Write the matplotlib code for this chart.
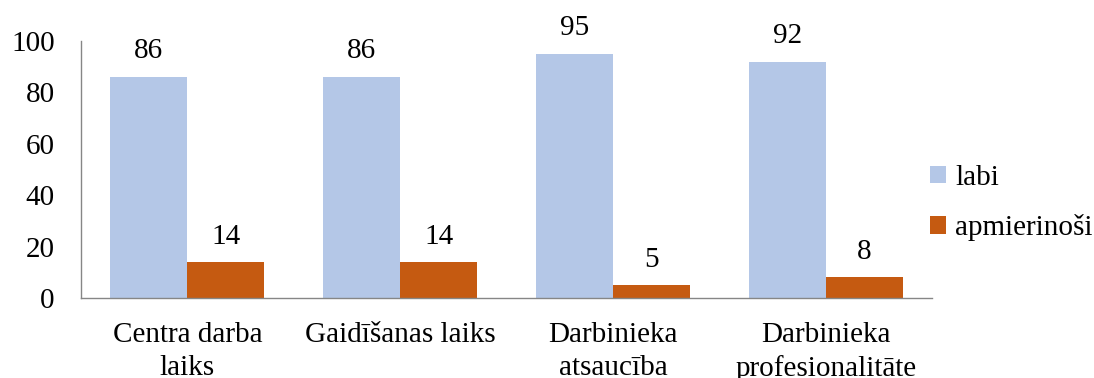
import numpy as np
from matplotlib import pyplot as plt

categories = ['Centra darba\nlaiks', 'Gaidīšanas laiks', 'Darbinieka\natsaucība', 'Darbinieka\nprofesionalitāte']
labi = [86, 86, 95, 92]
apmierinosi = [14, 14, 5, 8]
series_names = ['labi', 'apmierinoši']

plt.rcParams['font.family'] = ['Liberation Serif', 'DejaVu Serif']
fs = 21

fig = plt.figure(figsize=(10.94, 3.78), dpi=100)
ax = fig.add_axes([0.074, 0.2116, 0.778, 0.68])

x = np.arange(len(categories))
w = 0.362
b1 = ax.bar(x - w / 2, labi, w, color='#B4C7E7', label=series_names[0])
b2 = ax.bar(x + w / 2, apmierinosi, w, color='#C55A11', label=series_names[1])

for bars in (b1, b2):
    for rect in bars:
        h = rect.get_height()
        ax.annotate(str(int(h)), (rect.get_x() + rect.get_width() / 2, h),
                    xytext=(0, 9), textcoords='offset points',
                    ha='center', va='bottom', fontsize=fs)

ax.set_xlim(-0.5, 3.5)
ax.set_ylim(0, 100)
ax.set_yticks([0, 20, 40, 60, 80, 100])
ax.set_xticks(x)
ax.set_xticklabels(categories, linespacing=1.35)
ax.tick_params(axis='both', length=0, labelsize=fs)
ax.tick_params(axis='x', pad=17)
ax.tick_params(axis='y', pad=19)

for s in ['top', 'right']:
    ax.spines[s].set_visible(False)
for s in ['left', 'bottom']:
    ax.spines[s].set_color('#868686')
    ax.spines[s].set_linewidth(1.0)

ax.legend(loc='center left', bbox_to_anchor=(0.967, 0.37), frameon=False,
          fontsize=fs, handlelength=0.55, handleheight=0.55, handletextpad=0.3,
          labelspacing=0.8)

fig.savefig('out.png', dpi=100)
